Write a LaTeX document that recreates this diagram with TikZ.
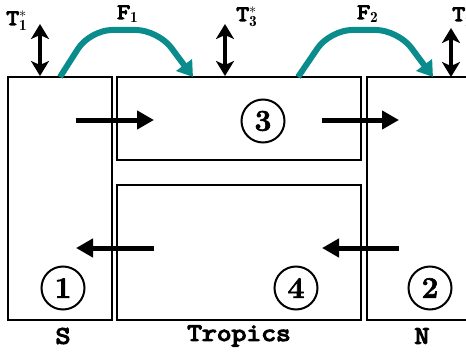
\documentclass[tikz,border=0pt]{standalone}
\usepackage{fontspec}
\newfontfamily\cour{Latin Modern Mono}[FakeBold=5,FakeStretch=1.15]
\newfontfamily\numfont{Latin Modern Roman}[BoldFeatures={FakeBold=2}]
\usetikzlibrary{arrows.meta}
\definecolor{flowteal}{RGB}{10,140,140}
\begin{document}
\begin{tikzpicture}[x=1pt,y=-1pt,
  box/.style={draw, line width=2pt, inner sep=0pt, rectangle},
  num/.style={draw, circle, line width=2pt, minimum size=43pt, inner sep=0pt, font=\fontsize{30}{30}\selectfont\numfont\bfseries},
  lab/.style={font=\fontsize{25}{25}\selectfont\cour},
  sym/.style={font=\fontsize{22}{22}\selectfont\cour, anchor=base west, inner sep=0pt},
  flow/.style={line width=5pt, -{Triangle[length=17pt,width=18pt]}},
  ex/.style={line width=4pt, {Stealth[length=15pt,width=18pt,inset=4pt]}-{Stealth[length=15pt,width=18pt,inset=4pt]}},
  heat/.style={line width=6pt, flowteal, rounded corners=22pt, -{Triangle[length=15pt,width=19pt]}}]
\useasboundingbox (0,0) rectangle (466,353);
% boxes
\node[box, minimum width=104pt, minimum height=243pt] (S) at (59.5,198.5) {};
\node[box, minimum width=244pt, minimum height=83pt] (B3) at (239,118.5) {};
\node[box, minimum width=244pt, minimum height=135pt] (B4) at (239,252.5) {};
\node[box, minimum width=113pt, minimum height=243pt] (N) at (423.5,198.5) {};
% circled numbers
\node[num] (c1) at (63,288) {1};
\node[num] (c3) at (263,121) {3};
\node[num] (c4) at (296,288) {4};
\node[num] (c2) at (430,288) {2};
% bottom labels
\node[lab] (lS) at (63,336) {S};
\node[lab] (lT) at (239,336) {Tropics};
\node[lab] (lN) at (422,336) {N};
% horizontal flows
\coordinate (a1s) at (76,120); \coordinate (a1e) at (154,120);
\coordinate (a2s) at (322,120); \coordinate (a2e) at (399,120);
\coordinate (a3s) at (154,248); \coordinate (a3e) at (76,248);
\coordinate (a4s) at (399,248); \coordinate (a4e) at (322,248);
\draw[flow] (a1s) -- (a1e);
\draw[flow] (a2s) -- (a2e);
\draw[flow] (a3s) -- (a3e);
\draw[flow] (a4s) -- (a4e);
% exchange arrows
\coordinate (e1t) at (40,24); \coordinate (e1b) at (40,76);
\coordinate (e3t) at (225,24); \coordinate (e3b) at (225,76);
\coordinate (e2t) at (451,28); \coordinate (e2b) at (451,77);
\draw[ex] (e1t) -- (e1b);
\draw[ex] (e3t) -- (e3b);
\draw[ex] (e2t) -- (e2b);
% heat transports
\coordinate (f1s) at (60,77); \coordinate (f1e) at (193,77);
\coordinate (f2s) at (298,77); \coordinate (f2e) at (433,77);
\draw[heat] (f1s) -- (90,30) -- (158,30) -- (f1e);
\draw[heat] (f2s) -- (330,30) -- (398,30) -- (f2e);
% symbols
\node[sym] (t1) at (6,25) {T$^{*}_{\mathbf{1}}$};
\node[sym] (t3) at (236,21) {T$^{*}_{\mathbf{3}}$};
\node[sym] (t2) at (452,21) {T$^{*}_{\mathbf{2}}$};
\node[sym] (F1) at (117,19) {F$_{\mathbf{1}}$};
\node[sym] (F2) at (357,19) {F$_{\mathbf{2}}$};
\end{tikzpicture}
\end{document}
